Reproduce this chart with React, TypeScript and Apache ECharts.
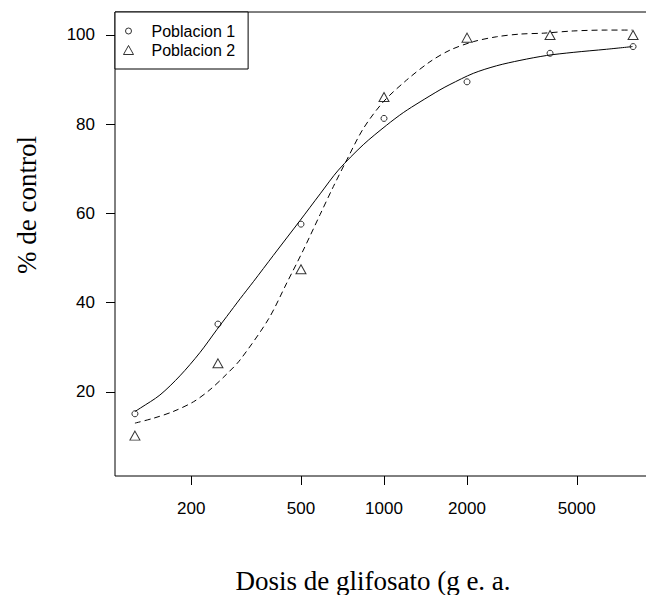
import React, { useEffect, useRef } from "react";
import * as echarts from "echarts";

// Observed data (dose in g e.a., response in % de control)
const DOSES = [125, 250, 500, 1000, 2000, 4000, 8000];
const POBLACION_1 = [15.1, 35.2, 57.6, 81.3, 89.5, 95.9, 97.4];
const POBLACION_2 = [10.2, 26.4, 47.5, 86.1, 99.4, 100.0, 100.0];

// Fitted curves
const FIT_1_DOSES = [125, 131, 154, 182, 215, 248, 269, 301, 336, 397, 496, 587, 683, 841, 1023, 1175, 1351, 1596, 1734, 2107, 2561, 3111, 3886, 4852, 6411, 7962];
const FIT_1_VALUES = [15.6, 16.4, 19.3, 23.6, 28.8, 34.0, 36.9, 40.9, 44.7, 50.6, 58.4, 64.4, 69.7, 75.4, 79.8, 82.6, 85.0, 87.7, 88.9, 91.4, 93.1, 94.3, 95.4, 96.1, 96.8, 97.4];
const FIT_2_DOSES = [125, 146, 172, 204, 234, 269, 301, 381, 444, 510, 587, 655, 733, 841, 994, 1208, 1468, 1734, 2107, 2561, 3111, 3777, 4852, 6411, 7962];
const FIT_2_VALUES = [13.0, 14.1, 15.6, 17.8, 20.5, 24.0, 27.2, 36.3, 44.4, 51.8, 59.8, 66.0, 72.0, 79.0, 85.0, 89.9, 94.0, 96.6, 98.5, 99.6, 100.2, 100.4, 100.9, 101.1, 101.1];

const X_TICKS = [200, 500, 1000, 2000, 5000];
const Y_TICKS = [20, 40, 60, 80, 100];
const SERIES_NAMES = ["Poblacion 1", "Poblacion 2"];
const X_TITLE = "Dosis de glifosato (g e. a.";
const Y_TITLE = "% de control";

const lg = (d: number) => Math.log10(d);
const pairs = (xs: number[], ys: number[]) => xs.map((x, i) => [lg(x), ys[i]]);

export default function App() {
  const ref = useRef<HTMLDivElement>(null);
  useEffect(() => {
    if (!ref.current) return;
    const chart = echarts.init(ref.current, null, { renderer: "svg" });
    const sans = "Liberation Sans, Arial, Helvetica, sans-serif";
    const serif = "Liberation Serif, Times New Roman, serif";
    const logMin = lg(125) - 0.04 * (lg(8000) - lg(125));
    const logMax = lg(8000) + 0.04 * (lg(8000) - lg(125));
    chart.setOption({
      animation: false,
      backgroundColor: "#fff",
      grid: {
        left: 115,
        top: 12,
        width: 538,
        height: 464,
        show: true,
        borderColor: "#000",
        borderWidth: 1,
        backgroundColor: "transparent",
        containLabel: false,
        outerBoundsMode: "none",
      },
      legend: {
        data: [
          // small circle icon: the two leading moves keep the drawn circle at 6px inside a 10x9 box
          { name: SERIES_NAMES[0], icon: "path://M0,0M10,9M2,4.5A3,3,0,1,0,8,4.5A3,3,0,1,0,2,4.5Z" },
          { name: SERIES_NAMES[1] },
        ],
        left: 115,
        top: 12,
        orient: "vertical",
        padding: [11, 13, 11, 8],
        itemGap: 3,
        itemWidth: 10,
        itemHeight: 9,
        borderColor: "#000",
        borderWidth: 1,
        borderRadius: 0,
        backgroundColor: "#fff",
        itemStyle: { borderWidth: 1, borderColor: "#000", color: "rgba(0,0,0,0)" },
        textStyle: { color: "#000", fontSize: 16, fontFamily: sans, padding: [0, 0, 0, 13] },
      },
      xAxis: {
        type: "value",
        min: logMin,
        max: logMax,
        axisLine: { show: false },
        splitLine: { show: false },
        axisTick: {
          show: true,
          length: 9,
          inside: false,
          customValues: X_TICKS.map(lg),
          lineStyle: { color: "#000", width: 1 },
        },
        axisLabel: {
          customValues: X_TICKS.map(lg),
          formatter: (v: number) => String(Math.round(Math.pow(10, v))),
          color: "#000",
          fontSize: 17,
          fontFamily: sans,
          margin: 24,
        },
        name: X_TITLE,
        nameLocation: "middle",
        nameGap: 91,
        nameTextStyle: { color: "#000", fontSize: 27, fontFamily: serif, padding: [0, 22, 0, 0] },
      },
      yAxis: {
        type: "value",
        min: 1.15,
        max: 105.15,
        axisLine: { show: false },
        splitLine: { show: false },
        axisTick: {
          show: true,
          length: 9,
          inside: false,
          customValues: Y_TICKS,
          lineStyle: { color: "#000", width: 1 },
        },
        axisLabel: {
          customValues: Y_TICKS,
          color: "#000",
          fontSize: 17,
          fontFamily: sans,
          margin: 20,
        },
        name: Y_TITLE,
        nameLocation: "middle",
        nameGap: 75,
        nameTextStyle: { color: "#000", fontSize: 27, fontFamily: serif, padding: [0, 0, 0, 78] },
      },
      series: [
        {
          name: "Ajuste 1",
          type: "line",
          data: pairs(FIT_1_DOSES, FIT_1_VALUES),
          showSymbol: false,
          symbol: "none",
          smooth: 0.3,
          lineStyle: { color: "#000", width: 1, type: "solid" },
          silent: true,
        },
        {
          name: "Ajuste 2",
          type: "line",
          data: pairs(FIT_2_DOSES, FIT_2_VALUES),
          showSymbol: false,
          symbol: "none",
          smooth: 0.3,
          lineStyle: { color: "#000", width: 1, type: [6, 4] },
          silent: true,
        },
        {
          name: SERIES_NAMES[0],
          type: "scatter",
          data: pairs(DOSES, POBLACION_1),
          symbol: "circle",
          symbolSize: 6,
          itemStyle: { color: "rgba(0,0,0,0)", borderColor: "#000", borderWidth: 1 },
        },
        {
          name: SERIES_NAMES[1],
          type: "scatter",
          data: pairs(DOSES, POBLACION_2),
          symbol: "triangle",
          symbolSize: [10, 9],
          itemStyle: { color: "rgba(0,0,0,0)", borderColor: "#000", borderWidth: 1 },
        },
      ],
    });
    return () => chart.dispose();
  }, []);
  return (
    <div
      ref={ref}
      style={{ position: "fixed", left: 0, top: 0, width: 646, height: 595, background: "#fff" }}
    />
  );
}
